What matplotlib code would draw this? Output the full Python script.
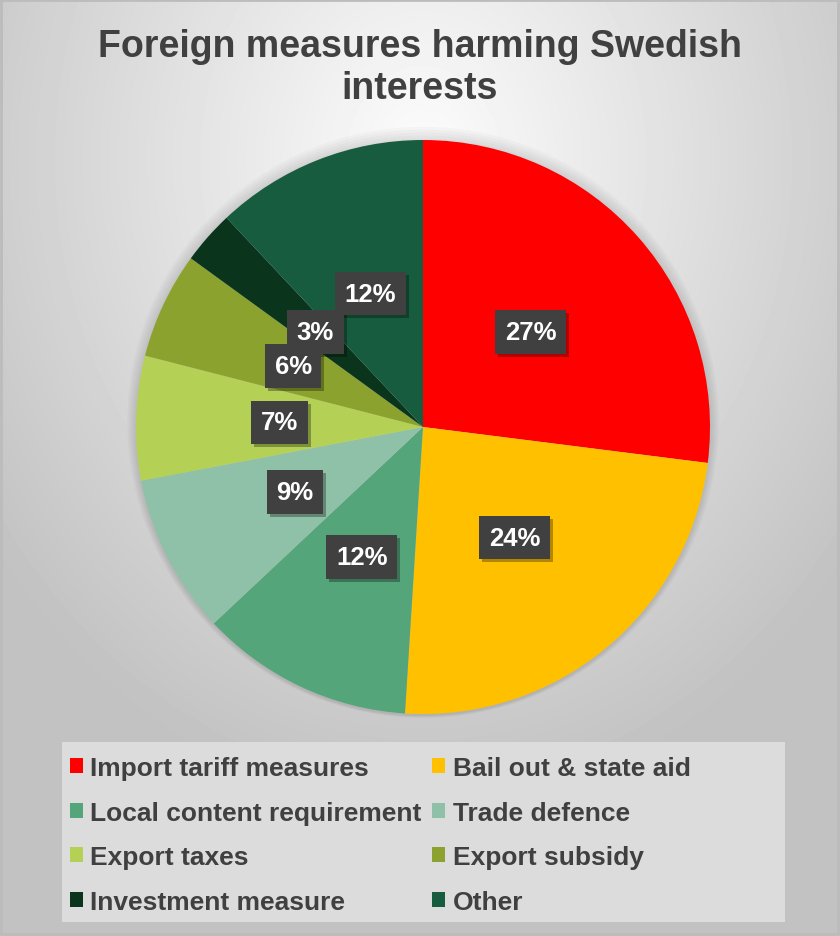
import numpy as np
import matplotlib.pyplot as plt
from matplotlib.patches import Rectangle, Circle
from matplotlib.transforms import IdentityTransform

# data
categories = ["Import tariff measures", "Bail out & state aid",
              "Local content requirement", "Trade defence",
              "Export taxes", "Export subsidy",
              "Investment measure", "Other"]
shares = [27, 24, 12, 9, 7, 6, 3, 12]
colors = ["#FF0000", "#FFC000", "#54A57A", "#8FC0A8",
          "#B4D155", "#8BA32E", "#0A351C", "#175C3E"]

title_text = "Foreign measures harming Swedish\ninterests"

plt.rcParams["font.family"] = ["Liberation Sans", "DejaVu Sans"]

fig = plt.figure(figsize=(8.4, 9.37), dpi=100)

# background gradient, border and legend panel
bg = fig.add_axes([0, 0, 1, 1])
yy, xx = np.mgrid[0:937, 0:840]
d = np.sqrt(((xx - 423) / 700.0) ** 2 + ((yy - 160) / 850.0) ** 2)
shade = np.clip(0.99 - 0.30 * d, 0.76, 1.0)
bg.imshow(shade, cmap="gray", vmin=0, vmax=1, extent=[0, 840, 937, 0], aspect="auto")
bg.add_patch(Rectangle((1, 1), 837, 934, fill=False, edgecolor="#bcbcbc", linewidth=2))
bg.add_patch(Rectangle((62, 743), 723, 180, facecolor="#dcdcdc", edgecolor="none"))
bg.set_xlim(0, 840)
bg.set_ylim(937, 0)
bg.axis("off")

fig.text(0.5, 1 - 68 / 937, title_text, ha="center", va="center",
         fontsize=27, fontweight="bold", color="#404040", linespacing=1.22)

# pie axes: centre (423, 428), radius 287 px
r = 287
ax = fig.add_axes([(423 - r * 1.1) / 840, 1 - (428 + r * 1.1) / 937,
                   2.2 * r / 840, 2.2 * r / 937])
for i in range(5):
    ax.add_patch(Circle((0, 0.004 * i), 1.0 + 0.006 * (i + 1), color="black",
                        alpha=0.025, zorder=0, linewidth=0))
wedges, texts, autotexts = ax.pie(shares, colors=colors, startangle=90, counterclock=False,
                                  autopct="%1.0f%%", pctdistance=0.5,
                                  wedgeprops=dict(linewidth=0))
for t in autotexts:
    t.set_color("white")
    t.set_fontsize(18.5)
    t.set_fontweight("bold")
    t.set_zorder(5)
    t.set_bbox(dict(boxstyle="square,pad=0.38", facecolor="#404040", edgecolor="none"))
ax.set_xlim(-1.1, 1.1)
ax.set_ylim(-1.1, 1.1)
ax.set_aspect("auto")

# drop shadows behind the label boxes (pixel coords taken from the drawn boxes)
fig.canvas.draw()
for t in autotexts:
    ext = t.get_bbox_patch().get_window_extent()
    sh = Rectangle((ext.x0 + 3, ext.y0 - 3), ext.width, ext.height,
                   facecolor="black", alpha=0.3, edgecolor="none", zorder=4,
                   transform=IdentityTransform())
    ax.add_artist(sh)

# legend in two columns, filled row by row
order = [0, 2, 4, 6, 1, 3, 5, 7]
handles = [Rectangle((0, 0), 1, 1, facecolor=colors[i]) for i in order]
labels = [categories[i] for i in order]
leg = fig.legend(handles, labels, loc="center left", bbox_to_anchor=(70 / 840, 1 - 836 / 937),
                 ncol=2, frameon=False, prop=dict(size=19, weight="bold"),
                 handlelength=0.5, handleheight=0.5, handletextpad=0.27,
                 columnspacing=0.4, labelspacing=0.78, borderpad=0, borderaxespad=0)
for t in leg.get_texts():
    t.set_color("#404040")

fig.savefig("out.png", dpi=100)
